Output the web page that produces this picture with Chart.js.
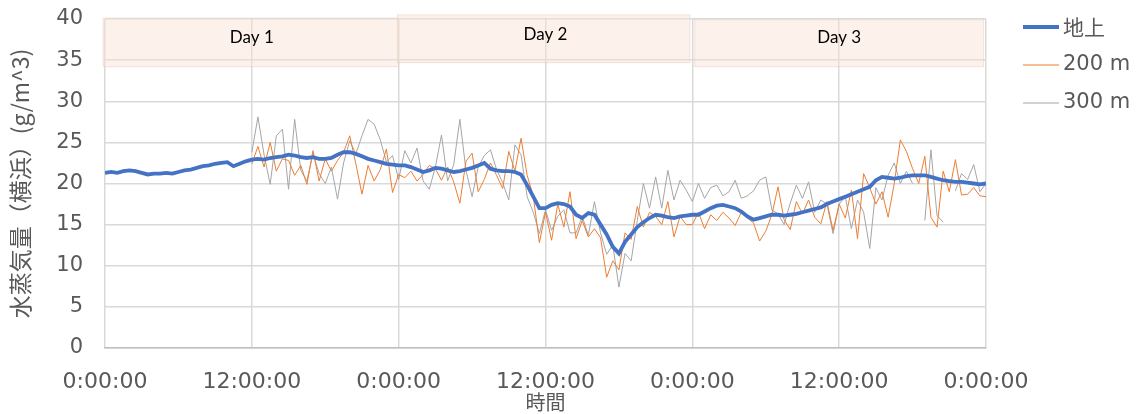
<!DOCTYPE html>
<html>
<head>
<meta charset="utf-8">
<script src="https://cdn.jsdelivr.net/npm/chart.js@4/dist/chart.umd.min.js"></script>
<style>
  html, body { margin: 0; padding: 0; background: #fff; }
</style>
</head>
<body>
<canvas id="chart" width="1140" height="414"></canvas>
<script>
// samples every 30 min; ground from 0:00 of day 1, 200 m / 300 m from 12:00 of day 1
const stepHours = 0.5
const groundStartHour = 0
const upperStartHour = 12

const seriesNames = ["地上", "200 m", "300 m"]

const ground = [
  21.3, 21.4, 21.3, 21.5, 21.6, 21.5, 21.3, 21.1, 21.2, 21.2, 21.3, 21.2,
  21.4, 21.6, 21.7, 21.9, 22.1, 22.2, 22.4, 22.5, 22.6, 22.1, 22.4, 22.7,
  22.9, 23.0, 22.9, 23.1, 23.2, 23.3, 23.5, 23.4, 23.2, 23.1, 23.2, 23.0,
  23.0, 23.1, 23.5, 23.8, 23.8, 23.6, 23.3, 23.0, 22.8, 22.6, 22.4, 22.3,
  22.2, 22.2, 22.0, 21.7, 21.4, 21.6, 21.9, 21.8, 21.6, 21.4, 21.5, 21.7,
  21.9, 22.2, 22.5, 21.8, 21.6, 21.5, 21.5, 21.4, 21.1, 19.8, 18.4, 17.0,
  17.0, 17.4, 17.6, 17.5, 17.2, 16.2, 15.8, 16.4, 16.2, 15.0, 13.8, 12.3,
  11.5, 12.9, 13.8, 14.7, 15.3, 15.8, 16.2, 16.1, 15.9, 15.8, 16.0, 16.1,
  16.2, 16.2, 16.6, 17.0, 17.3, 17.4, 17.2, 17.0, 16.6, 16.0, 15.6, 15.8,
  16.0, 16.2, 16.2, 16.1, 16.2, 16.3, 16.5, 16.7, 16.9, 17.1, 17.5, 17.8,
  18.1, 18.4, 18.7, 19.0, 19.3, 19.6, 20.4, 20.8, 20.7, 20.6, 20.7, 20.9,
  21.0, 21.0, 21.0, 20.8, 20.6, 20.4, 20.3, 20.2, 20.2, 20.1, 20.0, 19.9,
  20.0
]

const m200 = [
  22.4, 24.5, 22.0, 25.0, 21.5, 23.0, 22.8, 21.0, 22.2, 19.9, 24.0, 20.3,
  23.0, 21.5, 22.8, 23.8, 25.8, 22.4, 18.7, 22.2, 20.3, 21.7, 24.2, 18.9,
  21.1, 20.7, 21.5, 20.3, 21.1, 22.2, 21.8, 20.4, 22.0, 20.2, 17.6, 22.7,
  23.7, 19.0, 20.5, 22.5, 21.0, 19.4, 23.9, 21.5, 25.5, 21.0, 18.5, 12.8,
  16.5, 13.1, 17.5, 14.7, 19.0, 13.3, 15.5, 13.5, 14.5, 13.4, 8.6, 10.6,
  9.5, 14.0, 13.2, 17.2, 14.7, 16.5, 16.0, 15.0, 17.8, 13.5, 16.0, 15.0,
  15.0, 16.5, 14.5, 16.2, 15.5, 16.5, 15.8, 14.9, 16.5, 15.8, 15.2, 13.0,
  14.2, 16.2, 19.6, 15.6, 14.4, 17.8, 16.3, 18.0, 15.9, 15.1, 17.8, 14.3,
  17.5, 15.8, 19.2, 13.3, 21.2, 19.5, 17.5, 19.0, 15.9, 20.0, 25.3, 23.9,
  21.8, 20.0, 23.3, 15.9, 14.7, 21.5, 19.0, 22.9, 18.6, 18.7, 19.5, 18.5,
  18.4
]

const m300 = [
  23.8, 28.1, 23.5, 19.9, 25.8, 26.6, 19.3, 27.8, 21.6, 20.3, 23.6, 21.2,
  20.0, 22.0, 18.1, 22.5, 25.2, 23.6, 25.8, 27.8, 27.2, 25.3, 22.6, 23.4,
  20.5, 24.0, 22.5, 24.3, 20.3, 19.3, 22.0, 25.9, 20.3, 22.3, 27.8, 21.6,
  18.4, 22.0, 23.4, 24.1, 21.7, 20.1, 18.0, 24.7, 23.5, 18.4, 16.5, 13.9,
  16.8, 14.3, 16.0, 16.8, 14.0, 14.0, 16.0, 13.7, 17.8, 14.0, 11.4, 12.5,
  7.4, 11.5, 10.6, 15.5, 20.0, 17.0, 20.8, 17.0, 21.6, 18.0, 20.4, 19.2,
  17.8, 20.0, 18.2, 19.5, 19.8, 18.5, 19.0, 20.4, 18.2, 18.5, 19.1, 20.4,
  20.8, 16.8, 16.3, 15.0, 17.6, 19.8, 18.2, 20.2, 16.5, 18.0, 17.5, 13.9,
  17.5, 18.4, 14.5, 18.0, 16.5, 12.1, 19.5, 18.0, 21.0, 22.5, 20.0, 21.5,
  20.0, null, 15.5, 24.1, 16.1, 15.3, null, 19.1, 21.2, 20.5, 22.3, 19.0,
  20.0
]

const xTicks = [0, 12, 24, 36, 48, 60, 72]
const xTickLabels = ["0:00:00", "12:00:00", "0:00:00", "12:00:00", "0:00:00", "12:00:00", "0:00:00"]

const dayNames = ["Day 1", "Day 2", "Day 3"]
const dayMidHours = [12, 36, 60]

// shaded boxes at the top, in axis units (hours / g/m^3)
const dayBoxes = [
  { from: -0.15, to: 24.0, top: 40.1, bottom: 34.2 },
  { from: 23.9, to: 47.8, top: 40.5, bottom: 34.7 },
  { from: 48.2, to: 71.8, top: 39.9, bottom: 34.2 },
]
const dayLabelY = [37.8, 38.1, 37.8]

const colors = {
  ground: "#4472c4",
  m200: "#ed7d31",
  m300: "#a5a5a5",
  grid: "#d9d9d9",
  text: "#595959",
}

const tickFont = "'DejaVu Sans', sans-serif"
const cjkFont = "'Noto Sans CJK JP', sans-serif"

function toPoints(values, startHour) {
  return values.map((v, i) => ({ x: startHour + i * stepHours, y: v }))
}

const dayBoxPlugin = {
  id: "dayBoxes",
  beforeDatasetsDraw(chart) {
    const { ctx, scales: { x, y } } = chart
    ctx.save()
    dayBoxes.forEach((b) => {
      const x1 = x.getPixelForValue(b.from)
      const x2 = x.getPixelForValue(b.to)
      const y1 = y.getPixelForValue(b.top)
      const y2 = y.getPixelForValue(b.bottom)
      ctx.fillStyle = "rgba(250, 226, 210, 0.45)"
      ctx.fillRect(x1, y1, x2 - x1, y2 - y1)
      ctx.strokeStyle = "rgba(225, 205, 195, 0.5)"
      ctx.lineWidth = 1
      ctx.strokeRect(x1, y1, x2 - x1, y2 - y1)
    })
    ctx.fillStyle = "#000"
    ctx.font = "17px Lato, sans-serif"
    ctx.textAlign = "center"
    ctx.textBaseline = "middle"
    dayNames.forEach((name, i) => {
      ctx.fillText(name, x.getPixelForValue(dayMidHours[i]), y.getPixelForValue(dayLabelY[i]))
    })
    ctx.restore()
  }
}

const sideLegendPlugin = {
  id: "sideLegend",
  afterDraw(chart) {
    const { ctx, chartArea } = chart
    ctx.save()
    ctx.textAlign = "left"
    ctx.textBaseline = "middle"
    chart.data.datasets.forEach((ds, i) => {
      const yy = chartArea.top + 8 + i * 38
      const x0 = chartArea.right + 37
      ctx.strokeStyle = ds.borderColor
      ctx.lineWidth = ds.borderWidth
      ctx.beginPath()
      ctx.moveTo(x0, yy)
      ctx.lineTo(x0 + 36, yy)
      ctx.stroke()
      ctx.fillStyle = colors.text
      ctx.font = i === 0 ? "21px " + cjkFont : "21px " + tickFont
      ctx.fillText(ds.label, x0 + 40, yy)
    })
    ctx.restore()
  }
}

new Chart(document.getElementById("chart"), {
  type: "line",
  data: {
    datasets: [
      {
        label: seriesNames[0],
        data: toPoints(ground, groundStartHour),
        borderColor: colors.ground,
        borderWidth: 3.8,
      },
      {
        label: seriesNames[1],
        data: toPoints(m200, upperStartHour),
        borderColor: colors.m200,
        borderWidth: 1,
      },
      {
        label: seriesNames[2],
        data: toPoints(m300, upperStartHour),
        borderColor: colors.m300,
        borderWidth: 1,
        spanGaps: false,
      },
    ]
  },
  options: {
    responsive: false,
    animation: false,
    layout: { padding: { left: 0, right: 154, top: 19, bottom: 0 } },
    elements: {
      point: { radius: 0 },
      line: { tension: 0 },
    },
    plugins: {
      legend: { display: false },
      tooltip: { enabled: false },
    },
    scales: {
      x: {
        type: "linear",
        min: 0,
        max: 72,
        afterBuildTicks: (s) => { s.ticks = xTicks.map((v) => ({ value: v })) },
        afterFit: (s) => { s.height = 66 },
        ticks: {
          autoSkip: false,
          maxRotation: 0,
          padding: 21,
          color: colors.text,
          font: { family: tickFont, size: 22 },
          callback: (v) => xTickLabels[xTicks.indexOf(v)],
        },
        grid: { color: colors.grid, lineWidth: 1.5, drawTicks: false },
        border: { color: "#bfbfbf", width: 1.5 },
        title: {
          display: true,
          text: "時間",
          color: colors.text,
          font: { family: cjkFont, size: 20 },
          padding: { top: 0, bottom: 0 },
        },
      },
      y: {
        min: 0,
        max: 40,
        afterFit: (s) => {
          s.width = 105
          s.paddingTop = 0
          s.paddingBottom = 0
        },
        ticks: {
          stepSize: 5,
          padding: 22,
          color: colors.text,
          font: { family: tickFont, size: 21 },
        },
        grid: { color: colors.grid, lineWidth: 1.5, drawTicks: false },
        border: { display: false },
        title: {
          display: true,
          text: "水蒸気量（横浜）(g/m^3)",
          color: colors.text,
          font: { family: cjkFont, size: 23 },
          padding: { top: 6, bottom: 0 },
        },
      },
    },
  },
  plugins: [dayBoxPlugin, sideLegendPlugin],
})
</script>
</body>
</html>
